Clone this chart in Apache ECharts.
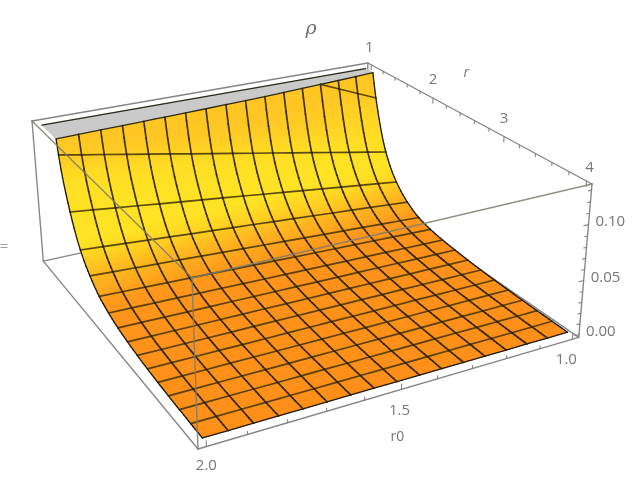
<!DOCTYPE html>
<html><head><meta charset="utf-8">
<style>html,body{margin:0;padding:0;background:#fff}#c{width:638px;height:492px}</style>
<script src="https://cdn.jsdelivr.net/npm/echarts@6/dist/echarts.min.js"></script>
</head><body><div id="c"></div>
<script>
// ---- data: rho(r, r0). Rows: r = 1 ... 4 in 16 cells, columns: r0 = 1 ... 2 in 16 cells
const r0Values = [1,1.0625,1.125,1.1875,1.25,1.3125,1.375,1.4375,1.5,1.5625,1.625,1.6875,1.75,1.8125,1.875,1.9375,2];
const rValues = [1,1.1875,1.375,1.5625,1.75,1.9375,2.125,2.3125,2.5,2.6875,2.875,3.0625,3.25,3.4375,3.625,3.8125,4];
const rho00 = [.1890,.2034,.2178,.2323,.2467,.2611,.2755,.2899,.3045,.3189,.3333,.3477,.3621,.3766,.3910,.4054,.4200];
const rho01 = [.1083,.1164,.1245,.1326,.1407,.1488,.1569,.1650,.1731,.1812,.1893,.1974,.2055,.2136,.2217,.2298,.2379];
const rho02 = [.0586,.0624,.0661,.0699,.0736,.0774,.0812,.0849,.0887,.0925,.0962,.1000,.1037,.1075,.1113,.1150,.1188];
const rho03 = [.0344,.0368,.0392,.0417,.0441,.0465,.0489,.0513,.0538,.0562,.0586,.0610,.0634,.0659,.0683,.0707,.0731];
const rho04 = [.0211,.0226,.0242,.0257,.0272,.0288,.0303,.0318,.0334,.0349,.0364,.0379,.0395,.0410,.0425,.0441,.0456];
const rho05 = [.0130,.0141,.0151,.0162,.0173,.0183,.0194,.0204,.0215,.0226,.0236,.0247,.0258,.0268,.0279,.0289,.0300];
const rho06 = [.0090,.0097,.0104,.0111,.0118,.0124,.0131,.0138,.0145,.0152,.0159,.0166,.0173,.0179,.0186,.0193,.0200];
const rho07 = [.0066,.0071,.0075,.0080,.0085,.0089,.0094,.0099,.0104,.0108,.0113,.0118,.0122,.0127,.0132,.0136,.0141];
const rho08 = [.0051,.0054,.0057,.0061,.0064,.0067,.0070,.0073,.0077,.0080,.0083,.0086,.0089,.0092,.0096,.0099,.0102];
const rho09 = [.0039,.0041,.0044,.0046,.0048,.0050,.0053,.0055,.0057,.0059,.0062,.0064,.0066,.0068,.0071,.0073,.0075];
const rho10 = [.0029,.0031,.0032,.0034,.0036,.0037,.0039,.0041,.0043,.0044,.0046,.0048,.0049,.0051,.0053,.0054,.0056];
const rho11 = [.0022,.0023,.0024,.0025,.0027,.0028,.0029,.0030,.0032,.0033,.0034,.0035,.0036,.0038,.0039,.0040,.0041];
const rho12 = [.0017,.0018,.0019,.0019,.0020,.0021,.0022,.0023,.0024,.0024,.0025,.0026,.0027,.0028,.0028,.0029,.0030];
const rho13 = [.0013,.0014,.0014,.0015,.0016,.0016,.0016,.0017,.0018,.0018,.0019,.0019,.0020,.0020,.0021,.0021,.0022];
const rho14 = [.0010,.0010,.0011,.0011,.0012,.0012,.0012,.0012,.0013,.0013,.0014,.0014,.0014,.0015,.0015,.0015,.0016];
const rho15 = [.0008,.0008,.0008,.0009,.0009,.0009,.0009,.0009,.0010,.0010,.0010,.0010,.0010,.0010,.0011,.0011,.0011];
const rho16 = [.0006,.0006,.0006,.0006,.0006,.0006,.0006,.0006,.0007,.0007,.0007,.0007,.0007,.0007,.0007,.0007,.0007];
const rhoRows = [rho00,rho01,rho02,rho03,rho04,rho05,rho06,rho07,rho08,rho09,rho10,rho11,rho12,rho13,rho14,rho15,rho16];
const r0TickLabels = ['1.0','1.5','2.0'];
const rTickLabels = ['1','2','3','4'];
const zTickLabels = ['0.00','0.05','0.10'];
const chartTitle = '\u03C1';

// ---- plot box (range with padding) and the top clip of the surface
const R0 = [0.98, 2.02], R = [0.94, 4.06], Z = [-0.0027, 0.1353], zTop = 0.1325;
// ---- camera: projective map of the box onto the page
const CAM = {o:[192,278], s:[492.35,-65.3], t:[-150.56,-121.3], q:[17.09,196.14], w:[0.156,0.295,0.056]};
function project(r0, r, z) {
  const s = 1 - (r0 - R0[0]) / (R0[1] - R0[0]);
  const t = 1 - (r - R[0]) / (R[1] - R[0]);
  const q = (Z[1] - z) / (Z[1] - Z[0]);
  const d = 1 + CAM.w[0]*s + CAM.w[1]*t + CAM.w[2]*q;
  return [(CAM.o[0]+CAM.s[0]*s+CAM.t[0]*t+CAM.q[0]*q)/d, (CAM.o[1]+CAM.s[1]*s+CAM.t[1]*t+CAM.q[1]*q)/d];
}
const P = (api, v) => api.coord(project(v[0], v[1], v[2]));

// the surface is drawn as a smooth spline through the rows of the table (rendering only, SUB strips per cell)
const SUB = 5;
function zAt(c, y) {
  const j = Math.min(Math.floor(y), 15), f = y - j;
  if (f === 0) return rhoRows[j][c];
  const L = k => Math.log(rhoRows[Math.max(0, Math.min(16, k))][c]);
  const p0 = L(j-1), p1 = L(j), p2 = L(j+1), p3 = L(j+2);
  return Math.exp(p1 + .5*f*((p2-p0) + f*(2*p0-5*p1+4*p2-p3 + f*(3*(p1-p2)+p3-p0))));
}
const rAt = y => { const j = Math.min(Math.floor(y),15); return rValues[j] + (rValues[j+1]-rValues[j])*(y-j); };
const vert = (c, y) => [r0Values[c], rAt(y), zAt(c, y)];

// colour of the lit surface depends on its steepness along r
const RAMP = [[0,[255,142,22]],[.03,[255,150,25]],[.06,[255,178,30]],[.09,[255,208,32]],[.13,[255,228,35]],[.25,[255,222,35]],[.4,[255,198,35]],[2,[255,190,35]]];
function slope(c, y) {
  const a = Math.max(y-.25,0), b = Math.min(y+.25,16);
  return (zAt(c,a)-zAt(c,b))/(rAt(b)-rAt(a));
}
function ramp(x) {
  for (let i=1;i<RAMP.length;i++) if (x<=RAMP[i][0]) {
    const f=(x-RAMP[i-1][0])/(RAMP[i][0]-RAMP[i-1][0]);
    const A=RAMP[i-1][1],B=RAMP[i][1];
    return `rgb(${A.map((v,k)=>Math.round(v+(B[k]-v)*f)).join(',')})`;
  }
  return 'rgb(255,190,35)';
}
// keep the part of a 3D polygon below (sign=1) or above (sign=-1) the clip plane
function clipPoly(pts, sign) {
  const out=[], cuts=[];
  for (let i=0;i<pts.length;i++){
    const a=pts[i], b=pts[(i+1)%pts.length];
    const ina=sign*(a[2]-zTop)<=0, inb=sign*(b[2]-zTop)<=0;
    if (ina) out.push(a);
    if (ina!==inb){
      const f=(zTop-a[2])/(b[2]-a[2]);
      const p=[a[0]+(b[0]-a[0])*f,a[1]+(b[1]-a[1])*f,zTop];
      out.push(p); cuts.push(p);
    }
  }
  return {out,cuts};
}
const strips=[]; for(let j=0;j<16*SUB;j++) for(let c=0;c<16;c++) strips.push([c,j]);
const NONE={type:'group',children:[]};
const stripPts=(c,k)=>{const y1=k/SUB,y2=(k+1)/SUB;return [vert(c,y1),vert(c+1,y1),vert(c+1,y2),vert(c,y2)];};

function rQuad(params, api){
  const c=api.value(0), k=api.value(1), y1=k/SUB, y2=(k+1)/SUB;
  const pts=stripPts(c,k);
  const {out}=clipPoly(pts,1);
  if(out.length<3) return NONE;
  const a=P(api,[(pts[0][0]+pts[1][0])/2,(pts[0][1]+pts[1][1])/2,Math.min(zTop,(pts[0][2]+pts[1][2])/2)]);
  const b=P(api,[(pts[2][0]+pts[3][0])/2,(pts[2][1]+pts[3][1])/2,(pts[2][2]+pts[3][2])/2]);
  const top=ramp((slope(c,y1)+slope(c+1,y1))/2), bot=ramp((slope(c,y2)+slope(c+1,y2))/2);
  const g=new echarts.graphic.LinearGradient(a[0],a[1],b[0],b[1],[{offset:0,color:top},{offset:1,color:bot}],true);
  return {type:'polygon',shape:{points:out.map(v=>P(api,v))},style:{fill:g,stroke:g,lineWidth:.7}};
}
function rCap(params, api){
  const {out}=clipPoly(stripPts(api.value(0),api.value(1)),-1);
  if(out.length<3) return NONE;
  return {type:'polygon',shape:{points:out.map(v=>P(api,[v[0],v[1],zTop]))},style:{fill:'#c9c9c9',stroke:'#c9c9c9',lineWidth:.7}};
}
function rCut(params, api){
  const {cuts}=clipPoly(stripPts(api.value(0),api.value(1)),1);
  if(cuts.length<2) return NONE;
  const a=P(api,cuts[0]), b=P(api,cuts[1]);
  return {type:'line',shape:{x1:a[0],y1:a[1],x2:b[0],y2:b[1]},style:{stroke:'#2a2a1a',lineWidth:1.3,lineCap:'round'}};
}
// mesh: each item is one grid segment [c1,y1*SUB,c2,y2*SUB]
const meshSegs=[];
for(let j=1;j<=16;j++) for(let c=0;c<16;c++) meshSegs.push([c,j*SUB,c+1,j*SUB]);
for(let c=0;c<=16;c++) for(let k=0;k<16*SUB;k++) meshSegs.push([c,k,c,k+1]);
function rMesh(params, api){
  const c1=api.value(0), k1=api.value(1), c2=api.value(2), k2=api.value(3);
  let a=vert(c1,k1/SUB), b=vert(c2,k2/SUB);
  if(a[2]>zTop&&b[2]>zTop) return NONE;
  const cl=(x,y)=>{const f=(zTop-x[2])/(y[2]-x[2]);return [x[0]+(y[0]-x[0])*f,x[1]+(y[1]-x[1])*f,zTop];};
  if(a[2]>zTop) a=cl(a,b); else if(b[2]>zTop) b=cl(a,b);
  const pa=P(api,a), pb=P(api,b);
  const isEdge=(c1===c2&&(c1===0||c1===16))||(k1===k2&&k1===16*SUB);
  const isCol=c1===c2;
  return {type:'line',shape:{x1:pa[0],y1:pa[1],x2:pb[0],y2:pb[1]},
    style:{stroke:isEdge?'#1c1a10':(isCol?'rgba(46,36,10,.9)':'rgba(66,54,14,.88)'),lineWidth:isEdge?1.3:1.7,lineCap:'round'}};
}
// box edges: [r0,r,z,r0,r,z]
const rn0=R0[0],rx0=R0[1],rn=R[0],rx=R[1],zn=Z[0],zx=Z[1];
const edgesBack=[[rn0,rn,zx,rx0,rn,zx],[rn0,rn,zx,rn0,rx,zx],[rx0,rn,zx,rx0,rn,zn],[rx0,rn,zn,rn0,rn,zn],[rn0,rn,zn,rn0,rx,zn],[rn0,rn,zx,rn0,rn,zn],
  [rx0,rn,zn,rx0,rx,zn],[rx0,rx,zn,rn0,rx,zn],[rn0,rx,zn,rn0,rx,zx]];
const edgesFront=[[rx0,rx,zx,rn0,rx,zx],[rx0,rx,zx,rx0,rn,zx],[rx0,rx,zx,rx0,rx,zn]];
const capEdge=[[1,1,zTop,2,1,zTop]];
const lineItem=(stroke,w)=>(params,api)=>{
  const a=P(api,[api.value(0),api.value(1),api.value(2)]),b=P(api,[api.value(3),api.value(4),api.value(5)]);
  return {type:'line',shape:{x1:a[0],y1:a[1],x2:b[0],y2:b[1]},style:{stroke,lineWidth:w,lineCap:'round'}};
};
// ticks
const ticks=[];
for(let i=0;i<=10;i++){const v=1+i/10,maj=i%5===0,l=maj?.0048:.0027;ticks.push([v,rx,zn,v,rx,zn+l]);}
for(let i=0;i<=15;i++){const v=1+i/5,maj=i%5===0,l=maj?.0048:.0027;ticks.push([rn0,v,zx,rn0,v,zx-l]);}
for(let i=0;i<=13;i++){const v=i/100,maj=i%5===0,l=maj?.014:.009;ticks.push([rn0,rx,v,rn0+l,rx,v]);}
// text
function text(api,p,str,dx,dy,size,align,extra){
  const c=api.coord(p);
  return {type:'text',x:c[0]+dx,y:c[1]+dy,style:Object.assign({text:str,fill:'#777777',font:size+'px "Open Sans"',textAlign:align,textVerticalAlign:'middle'},extra||{})};
}
const textSpecs=[];
r0TickLabels.forEach((s,i)=>textSpecs.push({k:'r0',v:+s,s,d:[[-6,21],[-2,21],[0,19]][i]}));
rTickLabels.forEach((s,i)=>textSpecs.push({k:'r',v:+s,s,d:[[-2,-17],[0,-18],[0,-18],[3,-13]][i]}));
zTickLabels.forEach((s,i)=>textSpecs.push({k:'z',v:+s,s,d:[7,-3]}));
function rText(params,api){
  const sp=textSpecs[api.value(0)];
  const p=sp.k==='r0'?project(sp.v,rx,zn):sp.k==='r'?project(rn0,sp.v,zx):project(rn0,rx,sp.v);
  return text(api,p,sp.s,sp.d[0],sp.d[1],15,sp.k==='z'?'left':'center');
}
function rTitles(params,api){
  const i=api.value(0);
  if(i===0) return text(api,[311,29],chartTitle,0,0,19,'center',{font:'italic 19px "DejaVu Serif"',fill:'#6e6e6e'});
  if(i===1) return text(api,project(rn0,2.5,zx),'r',-1,-44,14,'center',{font:'italic 14px "Open Sans"'});
  if(i===2) return text(api,project(1.5,rx,zn),'r0',-4,48,14,'center');
  return text(api,[4,247],'=',0,0,15,'center',{fill:'#a0a0a0'});
}
const custom=(renderItem,data,z)=>({type:'custom',renderItem,data,z,clip:false,silent:true,animation:false,coordinateSystem:'cartesian2d',progressive:0});
const chart=echarts.init(document.getElementById('c'),null,{renderer:'canvas'});
chart.setOption({
  animation:false,backgroundColor:'#fff',tooltip:{show:false},
  grid:{left:0,right:0,top:0,bottom:0},
  xAxis:{type:'value',min:0,max:638,show:false},
  yAxis:{type:'value',min:0,max:492,inverse:true,show:false},
  series:[
    custom(lineItem('#858585',1.35),edgesBack,1),
    custom(rCap,strips,2),
    custom(rQuad,strips,3),
    custom(rMesh,meshSegs,4),
    custom(rCut,strips,5),
    custom(lineItem('#2a2a1a',1.3),capEdge,5),
    custom(lineItem('rgba(125,125,110,.85)',1.5),edgesFront,6),
    custom(lineItem('#858585',1.1),ticks,7),
    custom(rText,textSpecs.map((_,i)=>[i]),8),
    custom(rTitles,[[0],[1],[2],[3]],8)
  ]
});
</script></body></html>
